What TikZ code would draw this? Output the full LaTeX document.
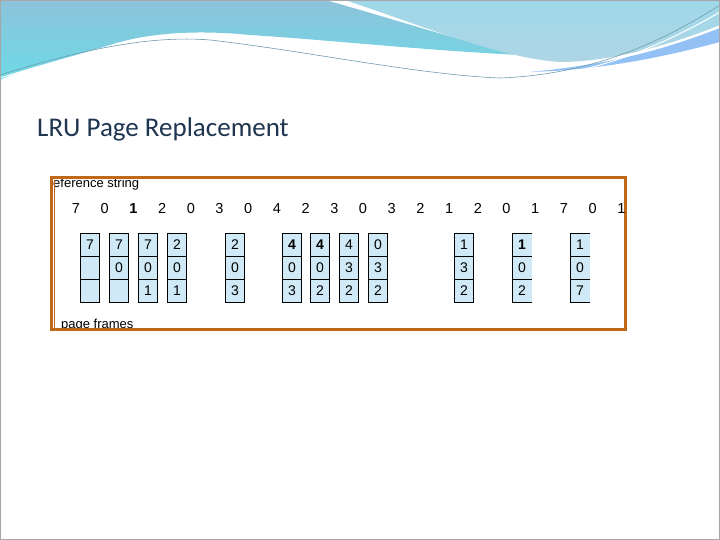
\documentclass[tikz,border=0pt]{standalone}
\usepackage{fontspec}
\setmainfont{Liberation Sans}
\newfontfamily\titlefont{Carlito}
\definecolor{frameor}{HTML}{C0681A}
\definecolor{cellblue}{HTML}{CFE9F6}
\definecolor{titlecol}{HTML}{1F3550}
\definecolor{waveA}{HTML}{8CC3DA}
\definecolor{waveB}{HTML}{6ED9E6}
\definecolor{waveC}{HTML}{9ED8E8}
\tikzset{
  refnum/.style={font=\fontsize{14.5}{14.5}\selectfont, anchor=base, inner sep=0pt},
  cell/.style={fill=cellblue, minimum width=19pt, minimum height=23pt, inner sep=0pt, text height=10pt, text depth=0pt, font=\fontsize{14}{14}\selectfont},
  lbl/.style={font=\fontsize{13}{13}\selectfont, anchor=base west, inner sep=0pt}
}
\begin{document}
\begin{tikzpicture}[x=1pt,y=-1pt]
\useasboundingbox (0,0) rectangle (720,540);
\fill[white] (0,0) rectangle (720,540);
% header waves
\shade[top color=waveA, bottom color=waveB] (0,0) -- (325,0) .. controls (380,15) and (440,35) .. (520,55) .. controls (420,50) and (330,40) .. (250,35) .. controls (200,30) and (150,32) .. (110,45) .. controls (60,60) and (20,70) .. (0,80) -- cycle;
\shade[top color=waveC, bottom color=waveA!70] (345,0) -- (720,0) -- (720,25) .. controls (670,45) and (610,62) .. (560,62) .. controls (500,58) and (420,25) .. (345,0) -- cycle;
\fill[waveB!70!blue!60] (720,28) .. controls (650,55) and (600,65) .. (530,72) .. controls (600,70) and (660,58) .. (720,42) -- cycle;
\draw[waveA!80!black, line width=0.6pt] (0,75) .. controls (80,50) and (150,35) .. (210,40) .. controls (300,50) and (420,75) .. (500,78) .. controls (580,75) and (650,50) .. (720,5);
\draw[white, line width=1pt] (0,78) .. controls (80,53) and (150,38) .. (210,43) .. controls (300,53) and (420,78) .. (500,81) .. controls (580,78) and (650,53) .. (720,12);
\draw[gray!70, line width=0.6pt] (0.5,0.5) rectangle (719.5,539.5);
% title
\node[anchor=base west, inner sep=0pt, text=titlecol, font=\titlefont\fontsize{27}{27}\selectfont] (title) at (37,137) {LRU Page Replacement};
% frame
\node[lbl] (rs) at (53,188) {eference string};
\node[lbl] (pf) at (61,328) {page frames};
\draw[frameor, line width=0.6pt] (54,180) -- (54,328);
\draw[frameor, line width=3pt] (51,178) rectangle (625,329);
% reference string
\foreach \v [count=\i from 0] in {7,0,\textbf{1},2,0,3,0,4,2,3,0,3,2,1,2,0,1,7,0,1} {
  \node[refnum] (r\i) at ({76+28.7*\i},214) {\v};
}
% frames
\newcommand{\col}[5]{%
  \node[cell] (c#1a) at (#2,244.5) {#3};
  \node[cell] (c#1b) at (#2,267.5) {#4};
  \node[cell] (c#1c) at (#2,290.5) {#5};
}
\col{1}{90}{7}{}{}
\col{2}{119}{7}{0}{}
\col{3}{148}{7}{0}{1}
\col{4}{177}{2}{0}{1}
\col{5}{235}{2}{0}{3}
\col{6}{292}{\textbf{4}}{0}{3}
\col{7}{320}{\textbf{4}}{0}{2}
\col{8}{349}{4}{3}{2}
\col{9}{378}{0}{3}{2}
\col{10}{464}{1}{3}{2}
\col{11}{522}{\textbf{1}}{0}{2}
\col{12}{580}{1}{0}{7}
\foreach \k in {1,...,10} {
  \draw[line width=0.6pt] (c\k a.north west) rectangle (c\k c.south east);
  \draw[line width=0.6pt] (c\k a.south west) -- (c\k a.south east) (c\k b.south west) -- (c\k b.south east);
}
\foreach \k in {11,12} {
  \draw[line width=0.6pt] (c\k a.north east) -- (c\k a.north west) -- (c\k c.south west) -- (c\k c.south east);
  \draw[line width=0.6pt] (c\k a.south west) -- (c\k a.south east) (c\k b.south west) -- (c\k b.south east);
}
\end{tikzpicture}
\end{document}
